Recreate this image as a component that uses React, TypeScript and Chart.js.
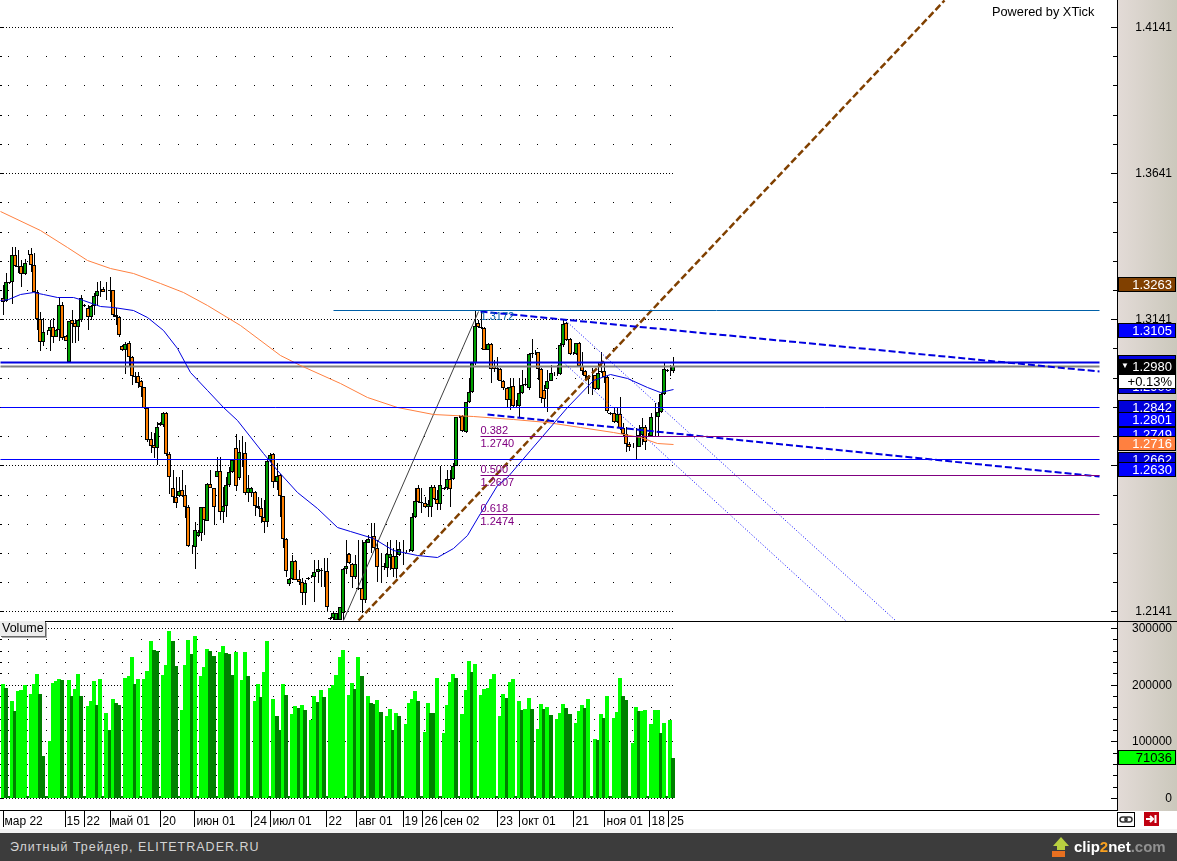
import React, { useEffect, useRef } from "react";
import { Chart, registerables, LinearScale } from "chart.js";

Chart.register(...registerables);

class SnapScale extends LinearScale {
  static id = "snap";
  static defaults = LinearScale.defaults;
  getPixelForValue(v: number) {
    const off = (this.options as any).snapOffset ?? 0;
    return Math.round(super.getPixelForValue(v)) + off;
  }
}
Chart.register(SnapScale as any);

// --- candles, one entry per session slot ---
const opens = [
  1.3214,1.3203,1.3269,1.3267,1.3360,1.3323,1.3323,1.3294,1.3363,1.3363,
  1.3328,1.3235,1.3140,1.3064,1.3101,1.3100,1.3113,1.3081,1.3104,1.3189,
  1.3083,1.2994,1.3138,1.3127,1.3115,1.3138,1.3189,1.3178,1.3149,1.3187,
  1.3219,1.3238,1.3246,1.3239,1.3241,1.3240,1.3155,1.3149,1.3048,1.3034,
  1.3058,1.3011,1.2947,1.2946,1.2929,1.2908,1.2836,1.2731,1.2710,1.2701,
  1.2779,1.2779,1.2819,1.2679,1.2564,1.2531,1.2536,1.2556,1.2538,1.2497,
  1.2366,1.2362,1.2400,1.2410,1.2497,1.2451,1.2576,1.2562,1.2602,1.2623,
  1.2482,1.2503,1.2572,1.2617,1.2699,1.2596,1.2684,1.2682,1.2545,1.2547,
  1.2548,1.2503,1.2494,1.2465,1.2446,1.2659,1.2679,1.2585,1.2608,1.2536,
  1.2388,1.2235,1.2251,1.2312,1.2252,1.2240,1.2203,1.2255,
  1.2260,1.2260,1.2275,1.2283,1.2280,1.2279,1.2117,1.2117,1.2112,1.2112,
  1.2134,1.2285,1.2336,1.2303,1.2258,1.2220,1.2220,1.2180,1.2376,1.2394,
  1.2399,1.2357,1.2294,1.2295,1.2291,1.2325,1.2329,1.2285,1.2334,1.2349,
  1.2349,1.2349,1.2348,1.2463,1.2562,1.2515,1.2511,1.2497,1.2497,1.2566,
  1.2526,1.2509,1.2563,1.2562,1.2593,1.2593,1.2639,1.2808,1.2811,1.2754,
  1.2857,1.2891,1.2990,1.3127,1.3116,1.3110,1.3036,1.3056,1.2982,1.2974,
  1.2971,1.2930,1.2905,1.2865,1.2913,1.2848,1.2844,1.2888,1.2919,1.2905,
  1.3025,1.3027,1.3028,1.2971,1.2899,1.2901,1.2930,1.2954,1.2954,1.2954,
  1.3053,1.3127,1.3072,1.3023,1.3021,1.3059,1.2982,1.2964,1.2937,1.2948,
  1.2950,1.2901,1.2963,1.2964,1.2942,1.2820,1.2819,1.2788,1.2816,1.2768,
  1.2747,1.2714,1.2715,1.2711,1.2705,1.2745,1.2773,1.2743,1.2742,1.2808,
  1.2806,1.2823,1.2884,1.2966,1.2965,1.2963,
];
const highs = [
  1.3258,1.3298,1.3269,1.3389,1.3387,1.3378,1.3343,1.3347,1.3378,1.3383,
  1.3366,1.3241,1.3167,1.3144,1.3104,1.3138,1.3144,1.3106,1.3212,1.3201,
  1.3087,1.3136,1.3174,1.3138,1.3140,1.3224,1.3193,1.3189,1.3189,1.3229,
  1.3269,1.3273,1.3252,1.3269,1.3286,1.3241,1.3178,1.3152,1.3052,1.3064,
  1.3066,1.3015,1.2961,1.2961,1.2933,1.2910,1.2838,1.2756,1.2750,1.2790,
  1.2790,1.2824,1.2824,1.2688,1.2625,1.2602,1.2602,1.2625,1.2574,1.2505,
  1.2368,1.2448,1.2420,1.2497,1.2499,1.2579,1.2625,1.2562,1.2668,1.2668,
  1.2568,1.2602,1.2636,1.2663,1.2748,1.2728,1.2742,1.2722,1.2608,1.2568,
  1.2553,1.2534,1.2528,1.2522,1.2659,1.2682,1.2682,1.2648,1.2610,1.2536,
  1.2391,1.2254,1.2334,1.2317,1.2283,1.2254,1.2248,1.2260,
  1.2266,1.2317,1.2317,1.2288,1.2323,1.2323,1.2123,1.2140,1.2137,1.2157,
  1.2288,1.2385,1.2342,1.2305,1.2334,1.2385,1.2385,1.2385,1.2402,1.2442,
  1.2443,1.2386,1.2340,1.2306,1.2380,1.2386,1.2357,1.2386,1.2380,1.2386,
  1.2351,1.2353,1.2477,1.2562,1.2574,1.2562,1.2534,1.2523,1.2574,1.2574,
  1.2557,1.2637,1.2568,1.2625,1.2625,1.2648,1.2808,1.2813,1.2813,1.2859,
  1.2939,1.2996,1.3173,1.3139,1.3173,1.3116,1.3059,1.3059,1.3002,1.3013,
  1.2973,1.2933,1.2908,1.2939,1.2939,1.2865,1.2939,1.2967,1.2939,1.3024,
  1.3072,1.3036,1.3030,1.2973,1.2916,1.2967,1.2985,1.2962,1.2985,1.3059,
  1.3142,1.3133,1.3076,1.3030,1.3061,1.3062,1.3030,1.2967,1.2950,1.2973,
  1.2950,1.2996,1.3030,1.2990,1.2945,1.2825,1.2842,1.2842,1.2876,1.2785,
  1.2773,1.2722,1.2719,1.2768,1.2779,1.2802,1.2779,1.2751,1.2819,1.2853,
  1.2859,1.2888,1.2990,1.2970,1.2985,1.3013,
];
const lows = [
  1.3155,1.3201,1.3263,1.3193,1.3321,1.3298,1.3252,1.3292,1.3360,1.3303,
  1.3235,1.3104,1.3033,1.3049,1.3087,1.3033,1.3058,1.3079,1.3067,1.3070,
  1.3066,1.2994,1.3058,1.3058,1.3067,1.3132,1.3184,1.3104,1.3138,1.3155,
  1.3186,1.3218,1.3233,1.3206,1.3201,1.3147,1.3121,1.3079,1.3032,1.2955,
  1.2978,1.2916,1.2921,1.2904,1.2876,1.2833,1.2722,1.2682,1.2665,1.2642,
  1.2775,1.2773,1.2673,1.2543,1.2511,1.2494,1.2531,1.2531,1.2459,1.2360,
  1.2336,1.2285,1.2397,1.2383,1.2402,1.2451,1.2562,1.2437,1.2602,1.2454,
  1.2442,1.2465,1.2568,1.2613,1.2554,1.2591,1.2636,1.2539,1.2516,1.2534,
  1.2467,1.2490,1.2442,1.2408,1.2431,1.2653,1.2562,1.2556,1.2465,1.2357,
  1.2258,1.2229,1.2248,1.2248,1.2231,1.2163,1.2163,1.2249,
  1.2254,1.2174,1.2237,1.2226,1.2226,1.2144,1.2112,1.2112,1.2112,1.2112,
  1.2112,1.2270,1.2303,1.2220,1.2251,1.2214,1.2134,1.2169,1.2374,1.2340,
  1.2351,1.2243,1.2237,1.2283,1.2260,1.2283,1.2260,1.2254,1.2331,1.2300,
  1.2340,1.2343,1.2346,1.2460,1.2511,1.2477,1.2494,1.2465,1.2465,1.2523,
  1.2488,1.2488,1.2557,1.2557,1.2500,1.2591,1.2637,1.2802,1.2755,1.2753,
  1.2853,1.2888,1.2985,1.3110,1.3107,1.3034,1.3034,1.2922,1.2962,1.2933,
  1.2928,1.2899,1.2836,1.2831,1.2842,1.2836,1.2802,1.2884,1.2913,1.2899,
  1.3007,1.3019,1.2933,1.2853,1.2836,1.2825,1.2928,1.2947,1.2947,1.2950,
  1.3047,1.3068,1.3019,1.3019,1.3019,1.2979,1.2950,1.2933,1.2885,1.2882,
  1.2899,1.2899,1.2956,1.2922,1.2819,1.2813,1.2785,1.2785,1.2762,1.2739,
  1.2688,1.2691,1.2699,1.2662,1.2703,1.2711,1.2694,1.2739,1.2739,1.2739,
  1.2737,1.2819,1.2882,1.2962,1.2945,1.2958,
];
const closes = [
  1.3201,1.3269,1.3265,1.3360,1.3323,1.3321,1.3294,1.3335,1.3365,1.3328,
  1.3235,1.3140,1.3064,1.3098,1.3099,1.3113,1.3081,1.3104,1.3189,1.3075,
  1.3068,1.3136,1.3124,1.3115,1.3138,1.3212,1.3187,1.3149,1.3187,1.3219,
  1.3237,1.3236,1.3235,1.3237,1.3239,1.3155,1.3149,1.3087,1.3034,1.3055,
  1.3010,1.2947,1.2944,1.2921,1.2908,1.2836,1.2728,1.2708,1.2701,1.2773,
  1.2787,1.2819,1.2679,1.2600,1.2531,1.2511,1.2552,1.2536,1.2499,1.2366,
  1.2364,1.2420,1.2414,1.2497,1.2454,1.2576,1.2562,1.2499,1.2623,1.2482,
  1.2503,1.2572,1.2617,1.2659,1.2571,1.2685,1.2682,1.2545,1.2562,1.2562,
  1.2503,1.2494,1.2465,1.2446,1.2657,1.2676,1.2585,1.2605,1.2536,1.2388,
  1.2280,1.2252,1.2312,1.2248,1.2240,1.2203,1.2239,1.2253,
  1.2258,1.2275,1.2285,1.2281,1.2278,1.2155,1.2115,1.2134,1.2134,1.2155,
  1.2285,1.2298,1.2305,1.2258,1.2303,1.2218,1.2180,1.2380,1.2389,1.2392,
  1.2357,1.2294,1.2292,1.2293,1.2337,1.2337,1.2285,1.2329,1.2354,1.2347,
  1.2347,1.2347,1.2463,1.2520,1.2517,1.2513,1.2497,1.2509,1.2566,1.2526,
  1.2509,1.2574,1.2561,1.2593,1.2560,1.2637,1.2808,1.2806,1.2758,1.2857,
  1.2891,1.2990,1.3119,1.3116,1.3110,1.3036,1.3056,1.2971,1.2971,1.2972,
  1.2930,1.2905,1.2865,1.2910,1.2844,1.2846,1.2888,1.2916,1.2917,1.3021,
  1.3023,1.3025,1.2971,1.2870,1.2868,1.2930,1.2956,1.2952,1.2952,1.3053,
  1.3125,1.3070,1.3021,1.3021,1.3059,1.2981,1.2964,1.2945,1.2947,1.2946,
  1.2901,1.2958,1.2961,1.2942,1.2828,1.2818,1.2788,1.2816,1.2768,1.2747,
  1.2714,1.2705,1.2713,1.2709,1.2745,1.2773,1.2722,1.2741,1.2808,1.2806,
  1.2823,1.2884,1.2970,1.2964,1.2963,1.2980,
];

// --- volume panel ---
const volumes = [
  201700,194600,3000,170500,152900,188200,189900,198700,3000,182900,201700,219300,182900,73500,3000,100500,
  203400,205800,210500,207600,3000,207600,179300,191700,219300,179300,3000,161700,170500,205800,163500,209300,
  3000,149400,119400,175200,167000,163500,3000,211100,214600,248100,200500,209300,3000,209300,223400,276400,
  260500,259300,3000,216400,234000,294000,276400,232300,3000,154600,234000,278100,253400,285200,3000,214600,
  230500,262200,258700,249900,3000,257000,267500,255200,253400,216400,257000,3000,207600,257000,214600,3000,
  170500,200500,177600,221700,276400,3000,174000,144100,119400,200500,181100,3000,147600,161700,158200,163500,
  154600,3000,137000,179300,168800,189900,177600,3000,193500,198700,216400,248100,260500,3000,181100,202300,
  191700,248100,214600,3000,179300,167000,165200,172300,151100,3000,144100,156400,119400,149400,144100,3000,
  129900,167000,174000,188200,170500,3000,115800,167000,149400,149400,211100,3000,114100,163500,204000,218100,
  211100,3000,147600,189900,241100,221700,235800,3000,181100,191700,193500,209300,218100,3000,144100,182900,
  175800,204000,209300,3000,170500,154600,156400,175800,156400,3000,121100,165200,156400,159900,145800,3000,
  138800,149400,165200,158200,147600,3000,131700,152900,163500,158200,174000,3000,104700,101700,147600,140500,
  179300,3000,140500,151100,211100,179300,172300,3000,96400,159900,152900,152900,154600,3000,129900,154600,
  154600,114100,131700,3000,137000,71036,
];
const fallingVolumeSlots = [
  1,2,4,8,12,13,14,19,20,22,25,26,30,32,34,36,37,38,42,44,48,49,50,54,55,56,60,62,66,67,68,71,72,73,75,78,79,82,85,
  87,88,90,91,94,96,97,100,102,103,109,112,114,115,117,118,120,121,124,126,127,132,133,136,137,139,144,145,149,151,
  157,160,163,165,168,169,172,174,175,179,180,181,185,187,189,191,193,197,198,199,202,205,209,211,213,
];

// --- moving averages (slot, price) ---
const fastMaSlots = [-0.8,1.7,5.6,9.7,12.9,17.3,22.4,25.6,31,35.1,41.4,45.9,51,55.4,59.5,65,70,74.4,82.7,87.1,93.5,99.8,106.2,110.3,117.6,124,131.6,137.9,143,147.5,151.6,157,160.2,167.5,179.2,187.5,192.9,198.3,204.6,208.7,212.9];
const fastMaValues = [1.3207,1.3210,1.3227,1.3234,1.3227,1.3217,1.3217,1.3207,1.3186,1.3183,1.3172,1.3149,1.3104,1.3042,1.2960,1.2899,1.2841,1.2796,1.2683,1.2625,1.2550,1.2495,1.2430,1.2416,1.2392,1.2351,1.2334,1.2327,1.2358,1.2402,1.2478,1.2574,1.2601,1.2693,1.2841,1.2933,1.2953,1.2940,1.2909,1.2892,1.2902];
const slowMaSlots = [-0.8,11.9,20.5,26.8,34.1,41.4,50,57.3,65,75.4,88.1,94.4,107.1,115.7,125.2,136.7,149.4,162.1,172.9,183.3,193.8,202.4,207.8,212.9];
const slowMaValues = [1.3511,1.3446,1.3388,1.3344,1.3316,1.3299,1.3265,1.3234,1.3190,1.3121,1.3019,1.2984,1.2923,1.2875,1.2841,1.2817,1.2810,1.2800,1.2789,1.2772,1.2755,1.2738,1.2717,1.2714];

// --- drawn trend lines (slot, price) ---
const brownTrendSlots = [112.9, 298.9];
const brownTrendPrices = [1.2112, 1.4233];
const swingLegSlots = [108.1, 150.9];
const swingLegPrices = [1.2112, 1.3169];
const upperDashSlots = [151.6, 348.1];
const upperDashPrices = [1.3169, 1.2964];
const lowerDashSlots = [153.8, 348.1];
const lowerDashPrices = [1.2817, 1.2604];
const channelASlots = [178.6, 283.3];
const channelAPrices = [1.3138, 1.2112];
const channelBSlots = [177.9, 267.5];
const channelBPrices = [1.2995, 1.2112];

// --- horizontal levels ---
const levelEndSlot = 348.1;
const chartStartSlot = -0.8;
const swingHighStartSlot = 104.9;
const fibStartSlot = 151.6;
const swingHigh = 1.3172;
const heavyLevel = 1.2995;
const lastPrice = 1.298;
const thinLevels = [1.2842, 1.2662];
const fibRatios = ["0.382", "0.500", "0.618"];
const fibLevels = [1.274, 1.2607, 1.2474];

// --- axes ---
const priceTicks = [1.2141,1.2241,1.2341,1.2441,1.2541,1.2641,1.2741,1.2841,1.2941,1.3041,1.3141,1.3241,1.3341,1.3441,1.3541,1.3641,1.3741,1.3841,1.3941,1.4041,1.4141];
const priceMajors = [1.2141, 1.2641, 1.3141, 1.3641, 1.4141];
const volumeTicks = [0,20000,40000,60000,80000,100000,120000,140000,160000,180000,200000,220000,240000,260000,280000,300000];
const volumeMajors = [0, 100000, 200000, 300000];
const dateSlots = [-0.25,19.5,25.6,33.8,49.7,60.5,78.6,84.6,102.4,111.9,126.8,132.9,138.9,156.7,163.7,180.8,190.7,205,211];
const dateLabels = ["мар 22","15","22","май 01","20","июн 01","24","июл 01","22","авг 01","19","26","сен 02","23","окт 01","21","ноя 01","18","25"];

// --- value tags on the right axis ---
const tagTexts = ["", "1.3263", "1.3105", "1.2900", "1.2842", "1.2801", "1.2749", "1.2716", "1.2662", "1.2630", "1.2980", "+0.13%"];
const tagPrices = [1.2995, 1.3263, 1.3105, 1.2912, 1.2842, 1.2801, 1.2749, 1.2716, 1.2662, 1.263, 1.298, 1.2931];
const tagFills = ["#0000e0", "#804000", "#0000ff", "#0000d8", "#0000d8", "#0000ff", "#0000ff", "#ff8040", "#0000d8", "#0000ff", "#000000", "#ffffff"];
const volumeTag = 71036;

const FONT = "'Liberation Sans', Arial, sans-serif";
const xRange = { min: -0.794, max: 353.8 };
const priceTop = 1.42334;
const priceBottom = 1.21099;
const GREEN = "#00a000";
const ORANGE = "#ff8000";
const BRIGHT = "#00ff00";
const DARK = "#008000";
const PANEL_SPLIT = 620.5;

const pts = (xs: number[], ys: number[]) => xs.map((x, i) => ({ x, y: ys[i] }));
const hline = (from: number, to: number, y: number) => [{ x: from, y }, { x: to, y }];
const noPad = (s: any) => { s.paddingTop = 0; s.paddingBottom = 0; s.paddingLeft = 0; s.paddingRight = 0; };

const chrome = {
  id: "xtickChrome",
  beforeDraw(chart: any) {
    const { ctx, chartArea: a, width } = chart;
    const g = ctx.createLinearGradient(a.right, 0, width, 0);
    g.addColorStop(0, "#e3dbd7");
    g.addColorStop(1, "#cbc8bc");
    ctx.save();
    ctx.fillStyle = g;
    ctx.fillRect(a.right, 0, width - a.right, a.bottom);
    ctx.restore();
  },
  beforeDatasetsDraw(chart: any) {
    const { ctx, chartArea: a, width } = chart;
    const { x, y, y2 } = chart.scales;
    const lastCol = x.getPixelForValue(213);
    const cols: number[] = [];
    for (let s = 1.5; s < 213; s += 6) cols.push(Math.round(x.getPixelForValue(s)));
    ctx.save();
    ctx.fillStyle = "#000";
    const rows = (scale: any, ticks: number[], majors: number[]) => {
      ticks.forEach((t) => {
        const py = Math.round(scale.getPixelForValue(t));
        const major = majors.includes(t);
        if (major) {
          for (let px = 0; px < lastCol; px += 3) ctx.fillRect(px, py, 1, 1);
        } else {
          cols.forEach((px) => ctx.fillRect(px, py, 1, 1));
        }
        ctx.fillRect(0, py, major ? 4 : 2, 1);
        const len = major ? 6 : 4;
        ctx.fillRect(a.right - len, py, len, 1);
      });
    };
    rows(y, priceTicks, priceMajors);
    rows(y2, volumeTicks, volumeMajors);
    // frame
    ctx.fillRect(a.right, 0, 1, a.bottom);
    ctx.fillRect(0, Math.round(PANEL_SPLIT), width, 1);
    ctx.fillRect(0, a.bottom - 1, a.right, 1);
    dateSlots.forEach((s) => ctx.fillRect(Math.round(x.getPixelForValue(s)), a.bottom, 1, 16));
    ctx.restore();
  },
  afterDatasetsDraw(chart: any) {
    const { ctx } = chart;
    const { x, y } = chart.scales;
    ctx.save();
    ctx.textBaseline = "middle";
    ctx.textAlign = "left";
    ctx.font = `11px ${FONT}`;
    const tx = x.getPixelForValue(fibStartSlot);
    ctx.fillStyle = "#800080";
    fibLevels.forEach((lv, i) => {
      const py = y.getPixelForValue(lv);
      ctx.fillText(fibRatios[i], tx, py - 5);
      ctx.fillText(lv.toFixed(4), tx, py + 8);
    });
    ctx.fillStyle = "#0060a8";
    ctx.fillText(swingHigh.toFixed(4), tx, y.getPixelForValue(swingHigh) + 7);
    ctx.restore();
  },
  afterDraw(chart: any) {
    const { ctx, chartArea: a, width } = chart;
    const { y, y2 } = chart.scales;
    const tag = (cy: number, text: string, fill: string, fg: string) => {
      const top = Math.round(cy) - 7;
      ctx.fillStyle = "#000";
      ctx.fillRect(a.right + 1, top, width - a.right - 2, 15);
      ctx.fillStyle = fill;
      ctx.fillRect(a.right + 2, top + 1, width - a.right - 4, 13);
      ctx.fillStyle = fg;
      ctx.fillText(text, width - 5, top + 8);
    };
    ctx.save();
    ctx.textAlign = "right";
    ctx.textBaseline = "middle";
    ctx.font = `13px ${FONT}`;
    tagTexts.forEach((t, i) => {
      const fill = tagFills[i];
      tag(y.getPixelForValue(tagPrices[i]), t, fill, fill === "#ffffff" ? "#000" : "#fff");
      if (t === lastPrice.toFixed(4)) {
        ctx.font = `8px ${FONT}`;
        ctx.fillText("▼", a.right + 12, y.getPixelForValue(tagPrices[i]));
        ctx.font = `13px ${FONT}`;
      }
    });
    tag(y2.getPixelForValue(volumeTag) - 1, String(volumeTag), BRIGHT, "#000");
    ctx.restore();
  },
};

export default function App() {
  const ref = useRef<HTMLCanvasElement | null>(null);
  useEffect(() => {
    const slots = opens.map((_, i) => i);
    const lineDs = (data: any[], color: string, width: number, extra: any = {}) => ({
      type: "line" as const,
      data,
      borderColor: color,
      borderWidth: width,
      pointRadius: 0,
      tension: 0,
      xAxisID: "x",
      yAxisID: "yl",
      order: 1,
      ...extra,
    });
    const chart = new Chart(ref.current as HTMLCanvasElement, {
      type: "bar",
      data: {
        datasets: [
          lineDs(hline(chartStartSlot, levelEndSlot, heavyLevel), "#0000e0", 2),
          lineDs(hline(chartStartSlot, levelEndSlot, lastPrice), "#808080", 2, { order: 2 }),
          ...thinLevels.map((lv) => lineDs(hline(chartStartSlot, levelEndSlot, lv), "#0000ff", 1)),
          lineDs(hline(swingHighStartSlot, levelEndSlot, swingHigh), "#0060a8", 1),
          ...fibLevels.map((lv) => lineDs(hline(fibStartSlot, levelEndSlot, lv), "#800080", 1)),
          lineDs(pts(fastMaSlots, fastMaValues), "#0000e0", 1),
          lineDs(pts(slowMaSlots, slowMaValues), "#ff8040", 1),
          lineDs(pts(swingLegSlots, swingLegPrices), "#404040", 1),
          lineDs(pts(channelASlots, channelAPrices), "#0000ff", 1, { borderDash: [1, 2] }),
          lineDs(pts(channelBSlots, channelBPrices), "#0000ff", 1, { borderDash: [1, 2] }),
          lineDs(pts(upperDashSlots, upperDashPrices), "#0000e0", 2, { borderDash: [7, 3] }),
          lineDs(pts(lowerDashSlots, lowerDashPrices), "#0000e0", 2, { borderDash: [7, 3] }),
          lineDs(pts(brownTrendSlots, brownTrendPrices), "#804000", 2.5, { borderDash: [7, 3] }),
          {
            type: "bar" as const,
            data: slots.map((i) => ({ x: i, y: [lows[i], highs[i]] })),
            backgroundColor: "#000",
            borderWidth: 0,
            barThickness: 1,
            grouped: false,
            inflateAmount: 0,
            xAxisID: "x",
            yAxisID: "y",
            order: 11,
          },
          {
            type: "bar" as const,
            data: slots.map((i) => ({ x: i, y: [Math.min(opens[i], closes[i]), Math.max(opens[i], closes[i])] })),
            backgroundColor: slots.map((i) => (closes[i] >= opens[i] ? GREEN : ORANGE)),
            borderColor: "#000",
            borderWidth: 1,
            borderSkipped: false,
            barThickness: 4,
            grouped: false,
            inflateAmount: 0,
            xAxisID: "xv",
            yAxisID: "y",
            order: 10,
          },
          {
            type: "bar" as const,
            data: volumes.map((v, i) => ({ x: i, y: v })),
            backgroundColor: volumes.map((_, i) => (fallingVolumeSlots.includes(i) ? DARK : BRIGHT)),
            borderWidth: 0,
            barThickness: 4,
            grouped: false,
            inflateAmount: 0,
            xAxisID: "xv",
            yAxisID: "y2",
            order: 12,
          },
        ] as any,
      },
      options: {
        animation: false,
        responsive: false,
        devicePixelRatio: 1,
        events: [],
        layout: { padding: { left: 0, right: 5, top: 0, bottom: 28 } },
        plugins: { legend: { display: false }, tooltip: { enabled: false }, title: { display: false } },
        scales: {
          x: {
            type: "snap",
            snapOffset: 0.5,
            offset: false,
            ...xRange,
            position: "bottom",
            grid: { display: false, drawTicks: false, tickLength: 0 },
            border: { display: false },
            afterFit: (s: any) => { s.height = 22; noPad(s); },
            afterBuildTicks: (s: any) => { s.ticks = dateSlots.map((v) => ({ value: v + 0.8 })); },
            ticks: {
              autoSkip: false,
              maxRotation: 0,
              align: "start",
              padding: 3,
              color: "#000",
              font: { family: FONT, size: 12 },
              callback: (_v: any, i: number) => dateLabels[i],
            },
          },
          xv: { type: "snap", offset: false, ...xRange, display: false },
          y: {
            type: "snap",
            position: "right",
            stack: "panels",
            stackWeight: PANEL_SPLIT,
            weight: 0,
            min: priceBottom,
            max: priceTop,
            grid: { display: false, drawTicks: false, tickLength: 0 },
            border: { display: false },
            afterFit: (s: any) => { s.width = 55; noPad(s); },
            afterBuildTicks: (s: any) => { s.ticks = priceTicks.map((v) => ({ value: v - 0.00034 })); },
            ticks: {
              autoSkip: false,
              padding: 0,
              crossAlign: "far",
              color: "#000",
              font: { family: FONT, size: 12 },
              callback: (_v: any, i: number) => (priceMajors.includes(priceTicks[i]) ? priceTicks[i].toFixed(4) : ""),
            },
          },
          y2: {
            type: "snap",
            position: "right",
            stack: "panels",
            stackWeight: 811 - PANEL_SPLIT,
            weight: 1,
            min: -22940,
            max: 313230,
            grid: { display: false, drawTicks: false, tickLength: 0 },
            border: { display: false },
            afterFit: (s: any) => { s.width = 55; noPad(s); },
            afterBuildTicks: (s: any) => { s.ticks = volumeTicks.map((v) => ({ value: v - 1800 })); },
            ticks: {
              autoSkip: false,
              padding: 0,
              crossAlign: "far",
              color: "#000",
              font: { family: FONT, size: 12 },
              callback: (_v: any, i: number) => (volumeMajors.includes(volumeTicks[i]) ? String(volumeTicks[i]) : ""),
            },
          },
          yl: {
            type: "snap",
            snapOffset: 0.5,
            position: "left",
            display: false,
            min: 1.14579,
            max: priceTop,
          },
        } as any,
      },
      plugins: [chrome as any],
    } as any);
    return () => chart.destroy();
  }, []);

  return (
    <div style={{ position: "absolute", left: 0, top: 0, width: 1177, height: 861, overflow: "hidden", background: "#fff", fontFamily: FONT }}>
      <canvas ref={ref} width={1177} height={861} style={{ position: "absolute", left: 0, top: 0, display: "block" }} />
      <div style={{ position: "absolute", left: 992, top: 4, fontSize: 12.75, lineHeight: "16px", color: "#000", whiteSpace: "nowrap" }}>Powered by XTick</div>
      <div style={{ position: "absolute", left: 0, top: 621, width: 45, height: 15, background: "#ececec", boxShadow: "1px 1px 0 #666, 2px 2px 0 #aaa", fontSize: 12.5, lineHeight: "14px", paddingLeft: 2, boxSizing: "border-box", color: "#000" }}>Volume</div>
      <div style={{ position: "absolute", left: 0, top: 829, width: 1177, height: 4, background: "#f2f2f2" }} />
      <svg style={{ position: "absolute", left: 1117, top: 812 }} width={18} height={15}>
        <rect x={0.5} y={0.5} width={17} height={14} fill="#fff" stroke="#000" />
        <rect x={3} y={5} width={7} height={5} rx={2.5} fill="none" stroke="#333" strokeWidth={1.5} />
        <rect x={8} y={5} width={7} height={5} rx={2.5} fill="none" stroke="#333" strokeWidth={1.5} />
      </svg>
      <svg style={{ position: "absolute", left: 1144, top: 812 }} width={16} height={15}>
        <rect x={0} y={0} width={15} height={14} fill="#c00010" />
        <path d="M2 7H8M6 4L9 7L6 10" stroke="#fff" strokeWidth={2} fill="none" />
        <rect x={10.5} y={3} width={2} height={8} fill="#fff" />
      </svg>
      <div style={{ position: "absolute", left: 0, top: 833, width: 1177, height: 28, background: "#3c3c3c" }}>
        <div style={{ position: "absolute", left: 10, top: 6, fontSize: 12.5, lineHeight: "16px", letterSpacing: 1, color: "#d4d4d4", whiteSpace: "nowrap" }}>Элитный Трейдер, ELITETRADER.RU</div>
        <svg style={{ position: "absolute", left: 1052, top: 4 }} width={18} height={21}>
          <path d="M9 0L17 9H13V13H5V9H1Z" fill="#b8d040" />
          <rect x={0} y={14} width={13} height={6} fill="#e87020" />
        </svg>
        <div style={{ position: "absolute", left: 1074, top: 3, fontSize: 15, fontWeight: 700, lineHeight: "22px", color: "#fff", whiteSpace: "nowrap" }}>
          clip<span style={{ color: "#f8a020" }}>2</span>net<span style={{ color: "#909090" }}>.com</span>
        </div>
      </div>
    </div>
  );
}
